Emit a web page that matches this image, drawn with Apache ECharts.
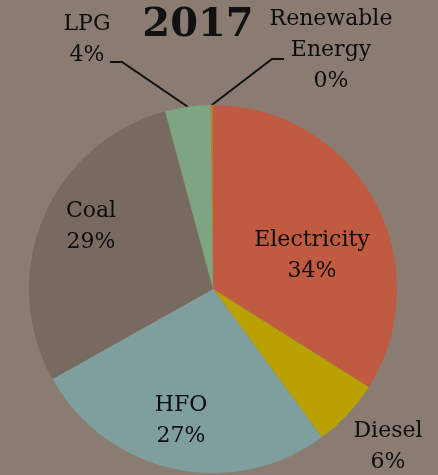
<!DOCTYPE html>
<html>
<head>
<meta charset="utf-8">
<script src="https://cdn.jsdelivr.net/npm/echarts@6/dist/echarts.min.js"></script>
<style>
  html, body { margin: 0; padding: 0; background: #8a7c73; }
  #chart { width: 438px; height: 475px; }
</style>
</head>
<body>
<div id="chart"></div>
<script>
// Energy mix, 2017 (shares in percent)
const categories = ['Electricity', 'Diesel', 'HFO', 'Coal', 'LPG', 'Renewable\nEnergy'];
const shares = [34, 6, 27, 29, 4, 0.2];
const sliceColors = ['#c05a40', '#b8a100', '#7f9e9e', '#786a60', '#7da582', '#c47a2e'];
const titleText = '2017';

// Label centre for each slice, plus the elbow/end of its leader line where one is drawn
const labelSpots = {
  0: { x: 312, y: 256 },
  1: { x: 388, y: 447 },
  2: { x: 181, y: 421 },
  3: { x: 91, y: 227 },
  4: { x: 87, y: 40, elbow: [122, 62], end: [110, 62] },
  5: { x: 331, y: 50, elbow: [272, 59], end: [284, 59] }
};

const chart = echarts.init(document.getElementById('chart'));
const fontFamily = '"DejaVu Serif", "Liberation Serif", serif';

chart.setOption({
  backgroundColor: '#8a7c73',
  title: {
    text: titleText,
    left: 193,
    top: 1,
    textAlign: 'center',
    textStyle: { fontFamily: fontFamily, fontWeight: 'bold', fontSize: 40, color: '#111' }
  },
  series: [{
    type: 'pie',
    center: [213, 289],
    radius: 184,
    startAngle: 90,
    clockwise: true,
    avoidLabelOverlap: false,
    data: categories.map((name, i) => ({
      name: name,
      value: shares[i],
      itemStyle: { color: sliceColors[i] },
      labelLine: { show: i === 4 || i === 5 }
    })),
    label: {
      show: true,
      position: 'outside',
      fontFamily: fontFamily,
      fontSize: 22,
      lineHeight: 31,
      color: '#0d0d0d',
      align: 'center',
      formatter: p => p.name + '\n' + Math.round(p.percent) + '%'
    },
    labelLine: {
      show: true,
      length: 20,
      length2: 10,
      lineStyle: { color: '#111', width: 2 }
    },
    labelLayout: function (params) {
      const s = labelSpots[params.dataIndex];
      const out = { x: s.x, y: s.y, align: 'center', verticalAlign: 'middle' };
      if (s.elbow && params.labelLinePoints) {
        out.labelLinePoints = [params.labelLinePoints[0], s.elbow, s.end];
      }
      return out;
    }
  }]
});
</script>
</body>
</html>
